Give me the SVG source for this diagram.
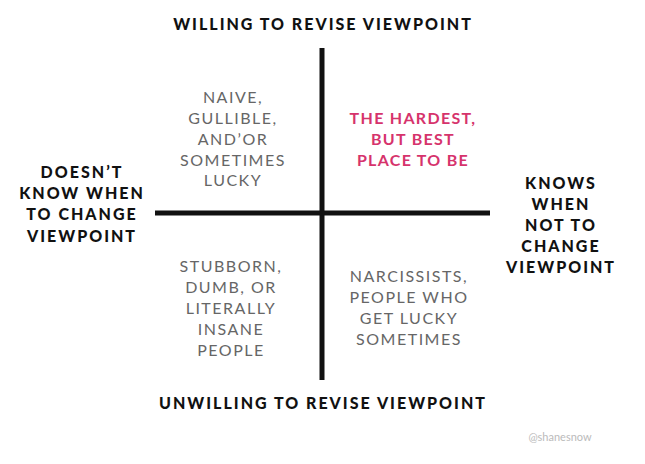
<svg xmlns="http://www.w3.org/2000/svg" width="645" height="464" viewBox="0 0 645 464">
<style>
.b{font-family:"Lato","Liberation Sans",sans-serif;font-weight:900;font-size:16px;fill:#111;text-anchor:middle;letter-spacing:2px}
.g{font-family:"Lato","Liberation Sans",sans-serif;font-weight:400;font-size:16px;fill:#666;text-anchor:middle;letter-spacing:1.5px}
.p{font-family:"Lato","Liberation Sans",sans-serif;font-weight:700;font-size:16px;fill:#d6336c;text-anchor:middle;letter-spacing:1.3px}
.w{font-family:"Lato","Liberation Sans",sans-serif;font-size:11px;fill:#bbb;text-anchor:middle}
</style>
<rect width="645" height="464" fill="#fff"/>
<g id="axes" stroke="#111" stroke-width="5">
<line x1="322" y1="48" x2="322" y2="380"/>
<line x1="155" y1="213" x2="490" y2="213"/>
</g>
<text class="b" x="323" y="30">WILLING TO REVISE VIEWPOINT</text>
<text class="b" x="323" y="409">UNWILLING TO REVISE VIEWPOINT</text>
<g class="b"><text x="82" y="178">DOESN’T</text><text x="82" y="199">KNOW WHEN</text><text x="82" y="220">TO CHANGE</text><text x="82" y="242">VIEWPOINT</text></g>
<g class="b"><text x="561" y="189">KNOWS</text><text x="561" y="210">WHEN</text><text x="561" y="231">NOT TO</text><text x="561" y="252">CHANGE</text><text x="561" y="273">VIEWPOINT</text></g>
<g class="g"><text x="233" y="103">NAIVE,</text><text x="233" y="124">GULLIBLE,</text><text x="233" y="145">AND’OR</text><text x="233" y="166">SOMETIMES</text><text x="233" y="186">LUCKY</text></g>
<g class="p"><text x="413" y="124">THE HARDEST,</text><text x="413" y="145">BUT BEST</text><text x="413" y="166">PLACE TO BE</text></g>
<g class="g"><text x="231" y="272">STUBBORN,</text><text x="231" y="293">DUMB, OR</text><text x="231" y="314">LITERALLY</text><text x="231" y="335">INSANE</text><text x="231" y="356">PEOPLE</text></g>
<g class="g"><text x="409" y="282">NARCISSISTS,</text><text x="409" y="303">PEOPLE WHO</text><text x="409" y="324">GET LUCKY</text><text x="409" y="345">SOMETIMES</text></g>
<text class="w" x="560" y="441">@shanesnow</text>
</svg>
